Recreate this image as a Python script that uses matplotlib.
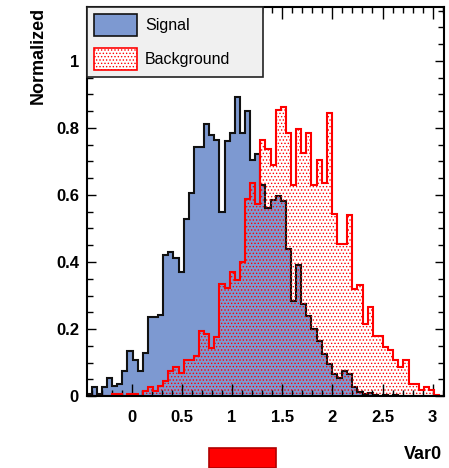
import numpy as np
import matplotlib
matplotlib.use("Agg")
import matplotlib.pyplot as plt
from matplotlib.patches import Patch, Rectangle
from matplotlib.ticker import MultipleLocator, FuncFormatter

# ==============================
# Data (70 bins, normalized)
# ==============================

x_min = -0.452
x_max = 3.116
n_bins = 70

signal = [0.005, 0.026, 0.006, 0.026, 0.055, 0.030, 0.036, 0.075, 0.134, 0.107,
          0.075, 0.127, 0.235, 0.235, 0.243, 0.420, 0.431, 0.411, 0.371, 0.527,
          0.607, 0.744, 0.744, 0.813, 0.778, 0.764, 0.548, 0.762, 0.785, 0.893,
          0.786, 0.852, 0.705, 0.723, 0.630, 0.560, 0.585, 0.597, 0.583, 0.440,
          0.283, 0.391, 0.275, 0.240, 0.200, 0.165, 0.125, 0.095, 0.065, 0.053,
          0.075, 0.065, 0.028, 0.013, 0.005, 0.008, 0.003, 0.000, 0.004, 0.000,
          0.003, 0.000, 0.000, 0.000, 0.000, 0.000, 0.000, 0.000, 0.000, 0.000]

background = [0.000, 0.000, 0.000, 0.000, 0.000, 0.005, 0.005, 0.000, 0.005, 0.005,
              0.000, 0.015, 0.028, 0.015, 0.030, 0.045, 0.074, 0.086, 0.068, 0.107,
              0.107, 0.120, 0.195, 0.185, 0.142, 0.175, 0.333, 0.323, 0.371, 0.345,
              0.401, 0.588, 0.636, 0.572, 0.764, 0.737, 0.689, 0.854, 0.864, 0.784,
              0.630, 0.796, 0.724, 0.784, 0.630, 0.703, 0.635, 0.844, 0.542, 0.454,
              0.454, 0.540, 0.320, 0.330, 0.215, 0.265, 0.180, 0.180, 0.145, 0.136,
              0.108, 0.088, 0.107, 0.036, 0.036, 0.018, 0.028, 0.018, 0.004, 0.000]

edges = np.linspace(x_min, x_max, n_bins + 1)

sig_fill = "#7d99d1"
sig_line = "#111111"
bkg_color = "#ff0000"

plt.rcParams["font.family"] = ["Liberation Sans", "DejaVu Sans"]
plt.rcParams["hatch.linewidth"] = 0.6

# ==============================
# Plot
# ==============================

fig = plt.figure(figsize=(4.49, 4.68), dpi=100)
ax = fig.add_axes([0.1927, 0.1538, 0.7968, 0.8312])

ax.stairs(signal, edges, fill=True, facecolor=sig_fill, edgecolor="none", zorder=1)
ax.stairs(signal, edges, color=sig_line, linewidth=1.5, zorder=1.1)
ax.stairs(background, edges, fill=True, facecolor="none", edgecolor=bkg_color,
          hatch=".....", linewidth=0, zorder=1.5)
ax.stairs(background, edges, color=bkg_color, linewidth=1.5, zorder=1.6)

ax.set_xlim(x_min, x_max)
ax.set_ylim(0, 1.161)

ax.xaxis.set_major_locator(MultipleLocator(0.5))
ax.xaxis.set_minor_locator(MultipleLocator(0.1))
ax.yaxis.set_major_locator(MultipleLocator(0.2))
ax.yaxis.set_minor_locator(MultipleLocator(0.05))
fmt = FuncFormatter(lambda v, p: "%g" % round(v, 3))
ax.xaxis.set_major_formatter(fmt)
ax.yaxis.set_major_formatter(fmt)

ax.tick_params(which="both", direction="in", top=True, right=True, width=1.0)
ax.tick_params(axis="x", which="major", length=8.5, pad=10)
ax.tick_params(axis="x", which="minor", length=4.3)
ax.tick_params(axis="y", which="major", length=6.5, pad=5.5)
ax.tick_params(axis="y", which="minor", length=4)
for lab in ax.get_xticklabels() + ax.get_yticklabels():
    lab.set_fontweight("bold")
    lab.set_fontsize(12)

for s in ax.spines.values():
    s.set_linewidth(1.5)

ax.set_ylabel("Normalized", fontsize=13, fontweight="bold", loc="top")
ax.yaxis.set_label_coords(-0.110, 1.0)
ax.set_xlabel("Var0", fontsize=13, fontweight="bold", loc="right")
ax.xaxis.set_label_coords(0.9936, -0.1285)

handles = [Patch(facecolor=sig_fill, edgecolor=sig_line, linewidth=1.2),
           Patch(facecolor="white", edgecolor=bkg_color, hatch=".....", linewidth=1.2)]
leg = ax.legend(handles, ["Signal", "Background"], loc="upper left",
                bbox_to_anchor=(0, 0, 0.492, 1), mode="expand", borderaxespad=0,
                fontsize=11.5, fancybox=False, handlelength=2.7, handleheight=1.75,
                handletextpad=0.5, labelspacing=0.72, borderpad=0.45)
leg.get_frame().set_facecolor("#f0f0f0")
leg.get_frame().set_edgecolor("#222222")
leg.get_frame().set_linewidth(1.2)
leg.get_frame().set_alpha(1)

# red box under the axis
fig.add_artist(Rectangle((209 / 449, 0), 67 / 449, 20 / 468, transform=fig.transFigure,
                         facecolor="#ff0000", edgecolor="#b00000", linewidth=1.2))

fig.savefig("out.png", dpi=100)
